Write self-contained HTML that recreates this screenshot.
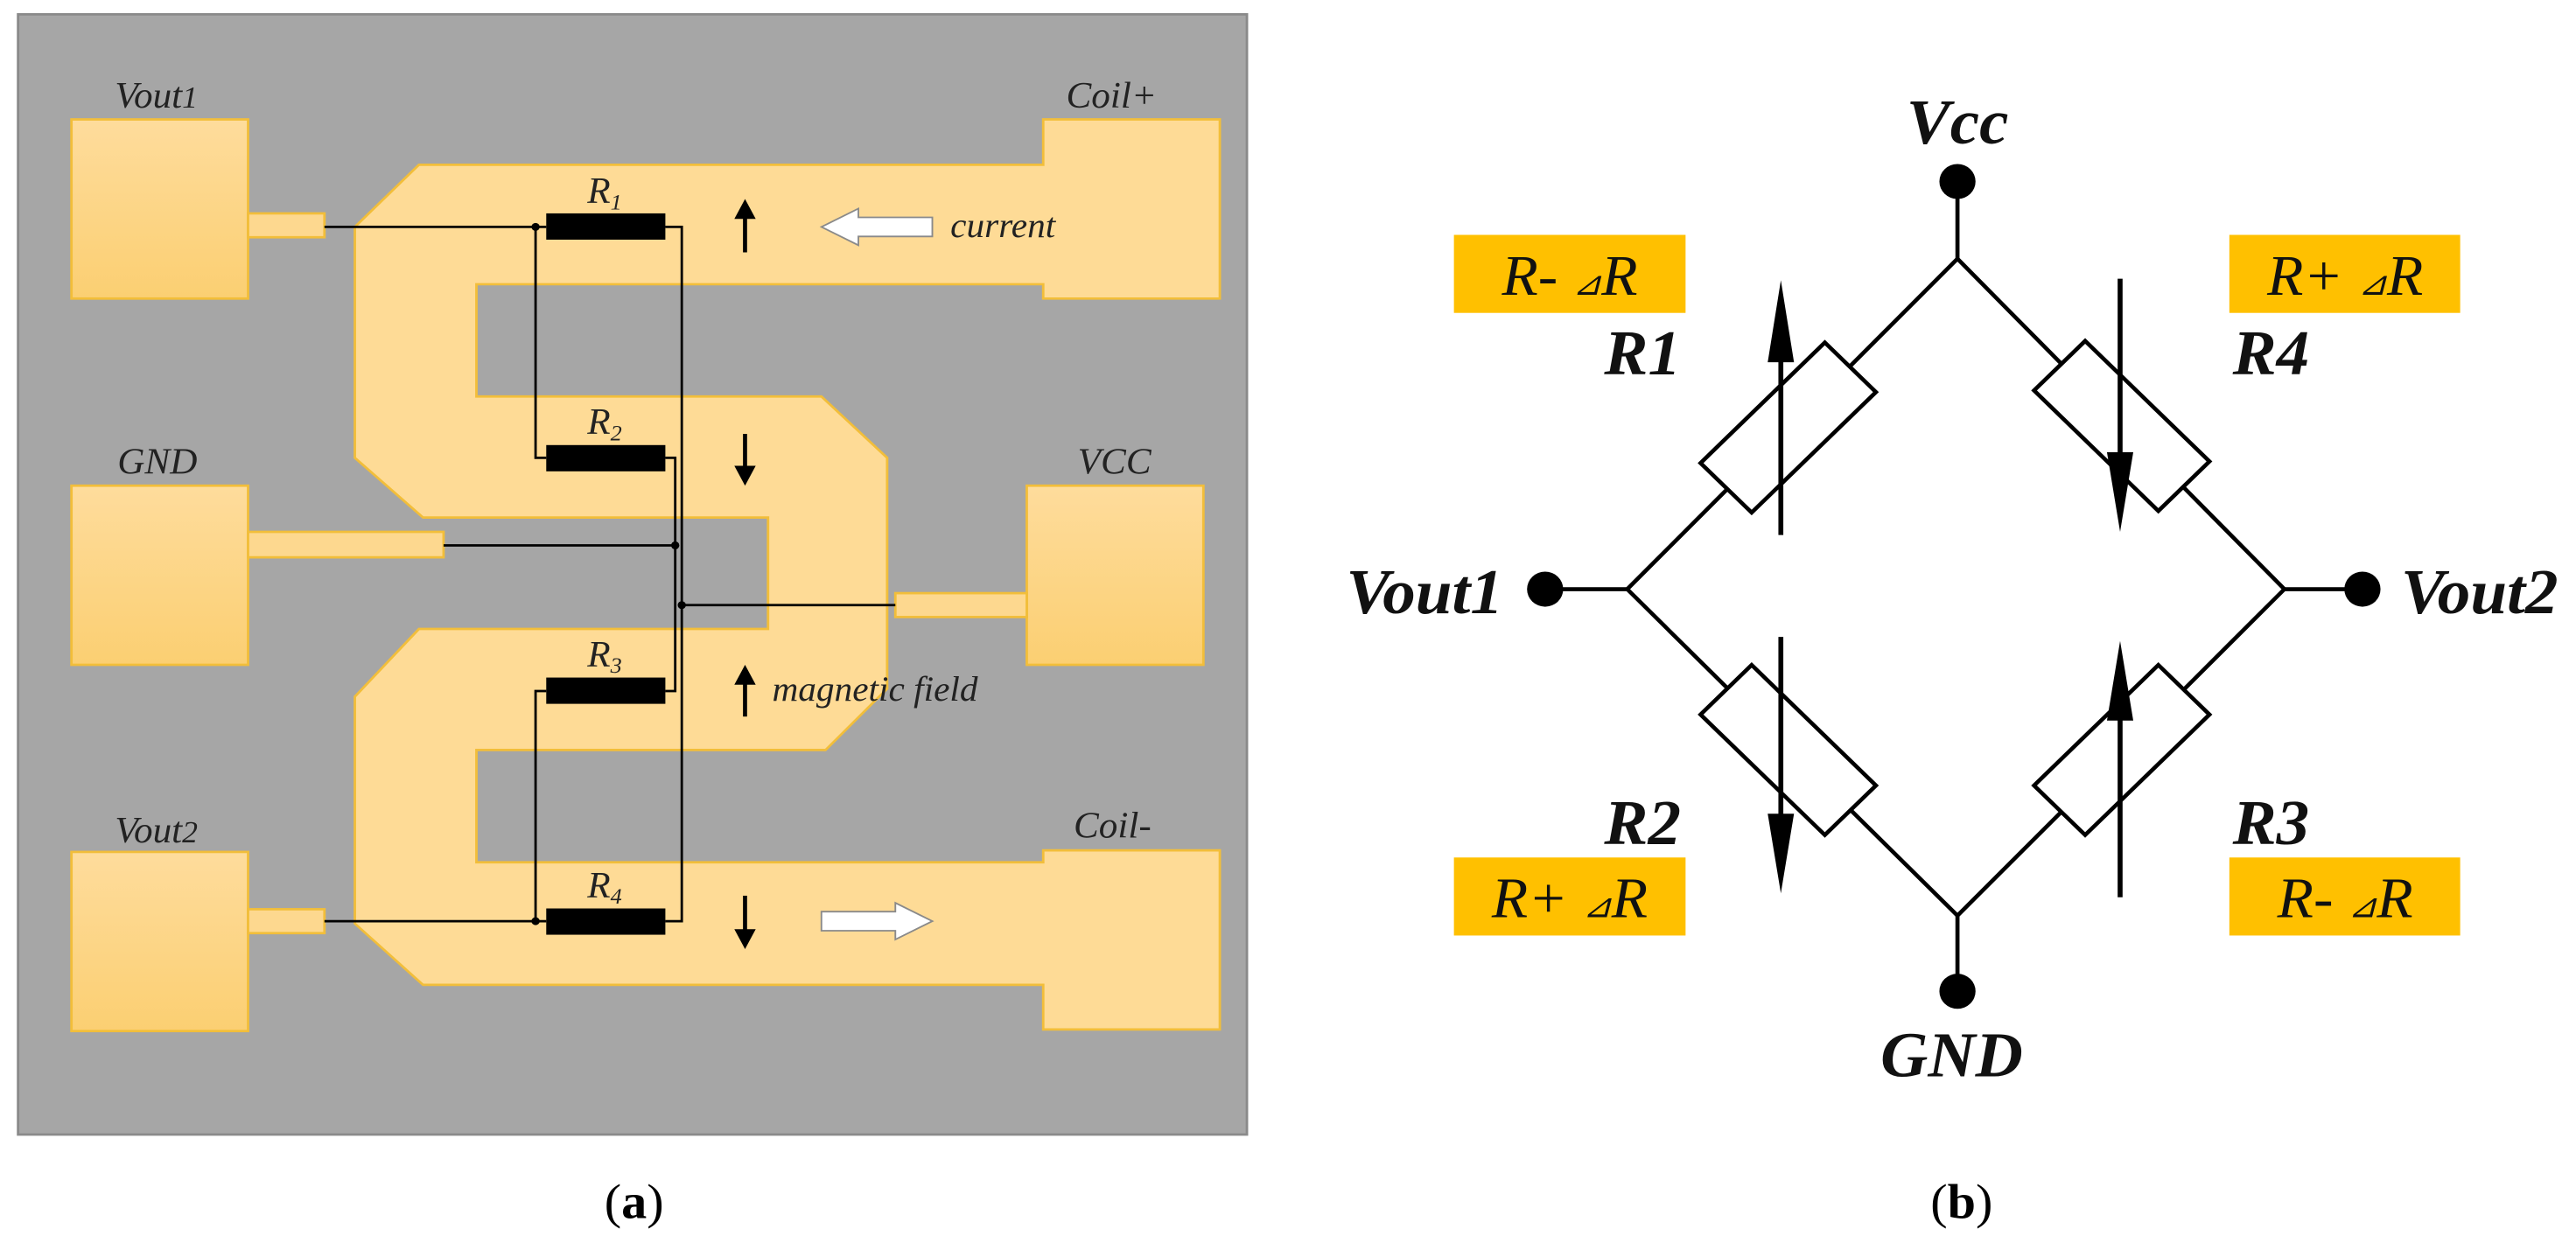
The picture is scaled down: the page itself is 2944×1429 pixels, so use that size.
<!DOCTYPE html>
<html><head><meta charset="utf-8"><style>
html,body{margin:0;padding:0;background:#fff;}
svg{display:block;}
</style></head><body>
<svg width="2944" height="1429" viewBox="0 0 3136 1570" preserveAspectRatio="none" xmlns="http://www.w3.org/2000/svg">
<defs>
<linearGradient id="pg" x1="0" y1="0" x2="0" y2="1">
<stop offset="0" stop-color="#fedc9c"/><stop offset="1" stop-color="#fbcf72"/>
</linearGradient>
</defs>
<rect x="0" y="0" width="3136" height="1570" fill="#fff"/>
<!-- LEFT PANEL -->
<rect x="22" y="18" width="1496" height="1407" fill="#a6a6a6" stroke="#8a8a8a" stroke-width="3"/>
<g stroke="#f2be3a" stroke-width="3">
<polygon fill="#fedb96" points="510,207 1270,207 1270,150 1485,150 1485,375 1270,375 1270,357 580,357 580,498 1000,498 1080,575 1080,865 1005,942 580,942 580,1083 1270,1083 1270,1068 1485,1068 1485,1293 1270,1293 1270,1237 515,1237 432,1160 432,875 510,790 935,790 935,650 515,650 432,575 432,285"/>
<rect x="87" y="150" width="215" height="225" fill="url(#pg)"/>
<rect x="302" y="268" width="93" height="30" fill="#fdd88f"/>
<rect x="87" y="610" width="215" height="225" fill="url(#pg)"/>
<rect x="302" y="668" width="238" height="32" fill="#fdd88f"/>
<rect x="87" y="1070" width="215" height="225" fill="url(#pg)"/>
<rect x="302" y="1142" width="93" height="30" fill="#fdd88f"/>
<rect x="1250" y="610" width="215" height="225" fill="url(#pg)"/>
<rect x="1090" y="745" width="160" height="30" fill="#fdd88f"/>
</g>
<g stroke="#000" stroke-width="3" fill="none">
<polyline points="395,285 665,285"/>
<polyline points="810,285 830,285 830,1157 810,1157"/>
<polyline points="652,285 652,575 665,575"/>
<polyline points="810,575 822,575 822,868 810,868"/>
<polyline points="665,868 652,868 652,1157"/>
<polyline points="395,1157 665,1157"/>
<polyline points="540,685 822,685"/>
<polyline points="830,760 1090,760"/>
</g>
<g fill="#000">
<rect x="665" y="268" width="145" height="33"/>
<rect x="665" y="559" width="145" height="33"/>
<rect x="665" y="851" width="145" height="33"/>
<rect x="665" y="1141" width="145" height="33"/>
<circle cx="652" cy="285" r="5"/><circle cx="652" cy="1157" r="5"/>
<circle cx="822" cy="685" r="5"/><circle cx="830" cy="760" r="5"/>
</g>
<g stroke="#000" stroke-width="5">
<line x1="907" y1="270" x2="907" y2="317"/>
<line x1="907" y1="545" x2="907" y2="590"/>
<line x1="907" y1="855" x2="907" y2="900"/>
<line x1="907" y1="1125" x2="907" y2="1170"/>
</g>
<g fill="#000">
<polygon points="907,250 894,275 920,275"/>
<polygon points="907,610 894,585 920,585"/>
<polygon points="907,835 894,860 920,860"/>
<polygon points="907,1192 894,1167 920,1167"/>
</g>
<g fill="#fff" stroke="#8a8a8a" stroke-width="2">
<polygon points="1000,285 1045,262 1045,273 1135,273 1135,297 1045,297 1045,308"/>
<polygon points="1135,1157 1090,1134 1090,1145 1000,1145 1000,1169 1090,1169 1090,1180"/>
</g>
<g font-family="Liberation Serif, serif" font-style="italic" fill="#222" font-size="46">
<text x="140" y="135">Vout<tspan font-size="38">1</tspan></text>
<text x="1298" y="135">Coil+</text>
<text x="143" y="595">GND</text>
<text x="1312" y="595">VCC</text>
<text x="140" y="1058">Vout<tspan font-size="38">2</tspan></text>
<text x="1307" y="1052">Coil-</text>
<text x="1157" y="298" font-size="44">current</text>
<text x="940" y="880" font-size="44">magnetic field</text>
<text x="715" y="255">R<tspan font-size="28" dy="8">1</tspan></text>
<text x="715" y="545">R<tspan font-size="28" dy="8">2</tspan></text>
<text x="715" y="837">R<tspan font-size="28" dy="8">3</tspan></text>
<text x="715" y="1127">R<tspan font-size="28" dy="8">4</tspan></text>
</g>
<text x="772" y="1530" text-anchor="middle" font-family="Liberation Serif, serif" font-size="62" fill="#000">(<tspan font-weight="bold">a</tspan>)</text>

<!-- RIGHT PANEL -->
<g transform="translate(1568,0)">
<g stroke="#000" stroke-width="5" fill="none">
<line x1="815" y1="228" x2="815" y2="325"/>
<line x1="815" y1="1150" x2="815" y2="1245"/>
<line x1="313" y1="740" x2="413" y2="740"/>
<line x1="1213" y1="740" x2="1308" y2="740"/>
<polygon points="815,325 413,740 815,1150 1213,740"/>
</g>
<g fill="#fff" stroke="#000" stroke-width="5">
<rect x="-107" y="-44" width="214" height="88" transform="translate(609,537) rotate(-45)"/>
<rect x="-107" y="-44" width="214" height="88" transform="translate(1015,535) rotate(45)"/>
<rect x="-107" y="-44" width="214" height="88" transform="translate(609,942) rotate(45)"/>
<rect x="-107" y="-44" width="214" height="88" transform="translate(1015,942) rotate(-45)"/>
</g>
<g fill="#000">
<circle cx="815" cy="228" r="22"/><circle cx="815" cy="1245" r="22"/>
<circle cx="313" cy="740" r="22"/><circle cx="1308" cy="740" r="22"/>
</g>
<g stroke="#000" stroke-width="6">
<line x1="600" y1="672" x2="600" y2="400"/>
<line x1="1013" y1="350" x2="1013" y2="620"/>
<line x1="600" y1="800" x2="600" y2="1070"/>
<line x1="1013" y1="1127" x2="1013" y2="860"/>
</g>
<g fill="#000">
<polygon points="600,352 584,455 616,455"/>
<polygon points="1013,668 997,568 1029,568"/>
<polygon points="600,1122 584,1022 616,1022"/>
<polygon points="1013,805 997,905 1029,905"/>
</g>
<g fill="#ffc000">
<rect x="202" y="295" width="282" height="98"/>
<rect x="1146" y="295" width="281" height="98"/>
<rect x="202" y="1077" width="282" height="98"/>
<rect x="1146" y="1077" width="281" height="98"/>
</g>
<g font-family="Liberation Serif, serif" font-style="italic" fill="#111" font-size="72" text-anchor="middle">
<text x="343" y="370">R- <tspan font-size="42">⊿</tspan>R</text>
<text x="1287" y="370">R+ <tspan font-size="42">⊿</tspan>R</text>
<text x="343" y="1152">R+ <tspan font-size="42">⊿</tspan>R</text>
<text x="1287" y="1152">R- <tspan font-size="42">⊿</tspan>R</text>
</g>
<g font-family="Liberation Serif, serif" font-style="italic" font-weight="bold" fill="#111" font-size="80">
<text x="815" y="180" text-anchor="middle">Vcc</text>
<text x="808" y="1352" text-anchor="middle">GND</text>
<text x="262" y="770" text-anchor="end">Vout1</text>
<text x="1355" y="770">Vout2</text>
<text x="385" y="470">R1</text>
<text x="1150" y="470">R4</text>
<text x="385" y="1060">R2</text>
<text x="1150" y="1060">R3</text>
</g>
<text x="820" y="1530" text-anchor="middle" font-family="Liberation Serif, serif" font-size="62" fill="#000">(<tspan font-weight="bold">b</tspan>)</text>
</g>
</svg>
</body></html>
